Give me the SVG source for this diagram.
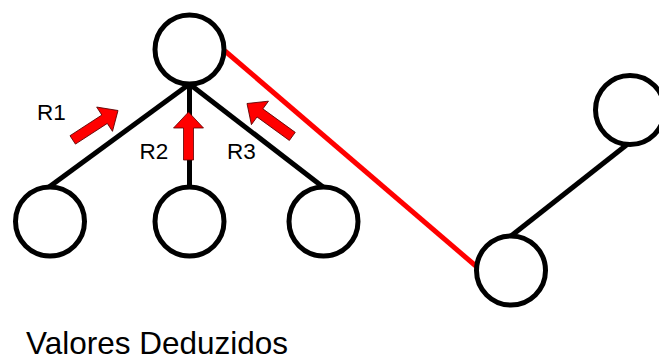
<svg xmlns="http://www.w3.org/2000/svg" width="659" height="360" viewBox="0 0 659 360">
  <style>
    .node { fill: #ffffff; stroke: #000000; stroke-width: 5; }
    .edge { stroke: #000000; stroke-width: 5; fill: none; }
    .edge-red { stroke: #ff0000; stroke-width: 5; fill: none; }
    .push { fill: #ff0000; stroke: #5a0000; stroke-width: 0.8; stroke-linejoin: miter; }
    .lbl { font-family: "Liberation Sans", Arial, sans-serif; fill: #000000; }
  </style>

  <!-- connectors -->
  <g id="connectors">
    <line class="edge" x1="189.5" y1="84" x2="49" y2="187"/>
    <line class="edge" x1="189.5" y1="84" x2="189.5" y2="187"/>
    <line class="edge" x1="189.5" y1="84" x2="323" y2="187"/>
    <line class="edge-red" x1="225" y1="51" x2="477" y2="267"/>
    <line class="edge" x1="629" y1="143" x2="511" y2="236"/>
  </g>

  <!-- nodes -->
  <g id="node-top"><circle class="node" cx="189.5" cy="49.5" r="34.5"/></g>
  <g id="node-left"><circle class="node" cx="50" cy="221.5" r="34.5"/></g>
  <g id="node-mid"><circle class="node" cx="189.5" cy="221.5" r="34.5"/></g>
  <g id="node-right"><circle class="node" cx="323.5" cy="221.5" r="34.5"/></g>
  <g id="node-low"><circle class="node" cx="511" cy="270.5" r="34.5"/></g>
  <g id="node-far"><circle class="node" cx="630" cy="110" r="34.5"/></g>

  <!-- red block arrows pointing toward the top node -->
  <g id="arrows">
    <path class="push" transform="translate(118 110.5) rotate(57)" d="M0,0 L14.5,16 L5,16 L5,54 L-5,54 L-5,16 L-14.5,16 Z"/>
    <path class="push" transform="translate(188.5 112)" d="M0,0 L15,16 L5,16 L5,48 L-5,48 L-5,16 L-15,16 Z"/>
    <path class="push" transform="translate(247 103.5) rotate(-54)" d="M0,0 L14.5,16 L5,16 L5,56 L-5,56 L-5,16 L-14.5,16 Z"/>
  </g>

  <!-- labels -->
  <g id="labels">
    <text class="lbl" x="37" y="120" font-size="22.5">R1</text>
    <text class="lbl" x="139.5" y="159" font-size="22.5">R2</text>
    <text class="lbl" x="227" y="159" font-size="22.5">R3</text>
    <text class="lbl" x="26" y="354" font-size="31.5">Valores Deduzidos</text>
  </g>
</svg>
